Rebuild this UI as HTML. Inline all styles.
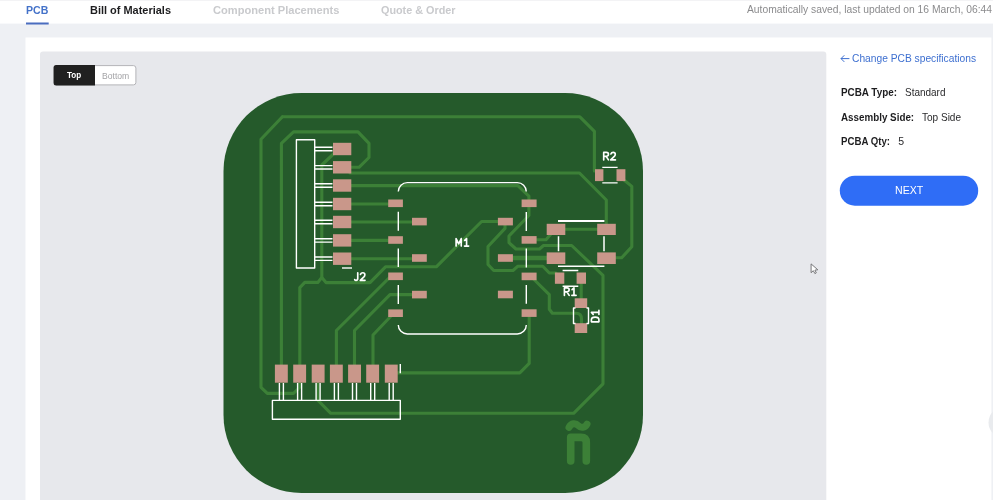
<!DOCTYPE html>
<html>
<head>
<meta charset="utf-8">
<title>PCB</title>
<style>
html,body{margin:0;padding:0;}
body{width:993px;height:500px;overflow:hidden;background:#eef0f4;font-family:"Liberation Sans",sans-serif;position:relative;}
.abs{position:absolute;white-space:nowrap;line-height:1;transform-origin:0 0;}
.rp{font-size:10.5px;color:#2a2a2c;}
.b{font-weight:bold;color:#1d1d1f;}
.tab{font-size:11.5px;font-weight:bold;}
</style>
</head>
<body>
<svg class="abs" style="left:0;top:0;" width="993" height="500" viewBox="0 0 993 500">
<rect x="0" y="0" width="993" height="23.6" fill="#ffffff"/>
<rect x="0" y="0" width="993" height="1" fill="#f3f3f5"/>
<rect x="25.5" y="37.5" width="965.9" height="470" fill="#ffffff"/>
<rect x="40" y="51.5" width="786.3" height="460" rx="3" ry="3" fill="#e7e8ec"/>
<rect x="26" y="22.5" width="22.7" height="2" fill="#4a6dbf"/>
<rect x="54.1" y="65.6" width="81.8" height="19.3" rx="2.5" ry="2.5" fill="#ffffff" stroke="#b4b4b8" stroke-width="1"/>
<path d="M56.1,65.1 H95 V85.4 H56.1 A2.5,2.5 0 0 1 53.6,82.9 V67.6 A2.5,2.5 0 0 1 56.1,65.1 Z" fill="#202020"/>
<rect x="839.8" y="175.7" width="138.4" height="30" rx="15" ry="15" fill="#2f6df6"/>
<path d="M849.4,58.6 H841 M844.3,55.3 L841,58.6 L844.3,61.9" fill="none" stroke="#3d6fd0" stroke-width="1"/>
<circle cx="1004" cy="422.5" r="15.5" fill="#e9ebee"/>
</svg>
<div id="txt" style="position:absolute;left:0;top:0;width:993px;height:500px;will-change:transform;">
<div class="abs tab" id="t1" style="left:26.3px;top:5px;color:#4472c9;transform:scaleX(0.92);">PCB</div>
<div class="abs tab" id="t2" style="left:90.2px;top:5px;color:#1d1d1f;transform:scaleX(0.953);">Bill of Materials</div>
<div class="abs tab" id="t3" style="left:212.6px;top:5px;color:#c9cacd;transform:scaleX(0.965);">Component Placements</div>
<div class="abs tab" id="t4" style="left:381px;top:5px;color:#c9cacd;transform:scaleX(0.94);">Quote &amp; Order</div>
<div class="abs" id="saved" style="left:747px;top:4.5px;font-size:10.3px;color:#8b8b8d;">Automatically saved, last updated on 16 March, 06:44</div>

<div class="abs" id="ttop" style="left:67.3px;top:71px;font-size:9px;font-weight:bold;color:#fff;transform:scaleX(0.9);">Top</div>
<div class="abs" id="tbot" style="left:102px;top:71.5px;font-size:8.6px;color:#a3a3a6;">Bottom</div>

<div class="abs rp" id="chg" style="left:852.4px;top:53px;color:#3d6fd0;transform:scaleX(0.975);">Change PCB specifications</div>
<div class="abs rp b" id="l1" style="left:840.5px;top:87px;transform:scaleX(0.94);">PCBA Type:</div>
<div class="abs rp" id="v1" style="left:904.7px;top:87px;transform:scaleX(0.95);">Standard</div>
<div class="abs rp b" id="l2" style="left:840.5px;top:111.5px;transform:scaleX(0.935);">Assembly Side:</div>
<div class="abs rp" id="v2" style="left:922.3px;top:111.5px;transform:scaleX(0.955);">Top Side</div>
<div class="abs rp b" id="l3" style="left:840.5px;top:136px;transform:scaleX(0.92);">PCBA Qty:</div>
<div class="abs rp" id="v3" style="left:898.3px;top:136px;">5</div>
<div class="abs" id="nexttxt" style="left:894.6px;top:185px;font-size:11.8px;color:#fff;transform:scaleX(0.9);">NEXT</div>

</div>
<svg id="pcb" class="abs" style="left:0;top:0;" width="993" height="500" viewBox="0 0 993 500">
<rect x="223.5" y="93" width="419.5" height="400" rx="78" ry="78" fill="#255a2b"/>
<g fill="none" stroke="#3c8037" stroke-width="3.1" stroke-linejoin="round" stroke-linecap="round">
<path d="M282.4,116.8 H579.9 L594.4,131.3 V171"/>
<path d="M282.4,116.8 L261,139.3 V387.3 L267.3,393.4 H293.5 L299.6,387.5 V381"/>
<path d="M281.4,366 V143.4 L293.5,131.9 H358 L369,143.4 V157.5 L359,167.3 H350"/>
<path d="M335,152.5 L321.8,165 V277.6 L317.8,282.4 H304.8 L299.8,287.6 V366"/>
<path d="M321.8,277.6 L326,282.6 H370 L385.5,266.8 H436.3 L481.6,221.5 H499"/>
<path d="M350,173 H579.5 L606.3,200 V225"/>
<path d="M350,185.6 H517.8 L528.9,196.2 V215.5 L509,236 V242.7 L516,249 H539.5 L543.5,245.5 H571.7 L603,275.4 V383.8 L573.6,413.3 H330.8 L318,400.4 V381"/>
<path d="M350,204 H390"/>
<path d="M350,222 H414"/>
<path d="M350,240.4 H390"/>
<path d="M350,258.7 H414"/>
<path d="M390,277 L336.4,330.5 V366"/>
<path d="M414,294.6 H390 L354.5,330.5 V366"/>
<path d="M392,315 L373,335 V366"/>
<path d="M505,224 V228.4 L488,246.5 V264.5 L493.7,270.5 H513 L517.9,266.2 H542.8 L549.3,273 H556"/>
<path d="M535,239.7 H546 L551,234"/>
<path d="M564,229.3 H599"/>
<path d="M624,180 L631.8,186.4 V246.7 L621.7,257.7 H614"/>
<path d="M581.2,282 V300"/>
<path d="M534,279.5 L549.3,294.7 V309.2 L552.4,313.3 H576 Q581.5,313.3 581.5,319 V325"/>
<path d="M529.2,315 V363.4 L519.8,372.9 H396"/>
<path d="M512,258 H548" stroke-width="4.4"/>
</g>
<g fill="none" stroke="#3c8037" stroke-linecap="round" stroke-linejoin="round"><path d="M570.7,460.9 V437.4 H581 Q586.3,437.4 586.3,442.5 V460.9" stroke-width="7.6"/><path d="M569,427.4 C571.3,423 575.5,422.8 578.3,425.6 C580.8,428.2 585,428 587,424.2" stroke-width="7"/></g>
<g fill="#c9978a">
<rect x="333.0" y="142.8" width="18.3" height="12.4"/>
<rect x="333.0" y="161.1" width="18.3" height="12.4"/>
<rect x="333.0" y="179.3" width="18.3" height="12.4"/>
<rect x="333.0" y="197.8" width="18.3" height="12.4"/>
<rect x="333.0" y="215.8" width="18.3" height="12.4"/>
<rect x="333.0" y="234.2" width="18.3" height="12.4"/>
<rect x="333.0" y="252.5" width="18.3" height="12.4"/>
<rect x="274.9" y="364.6" width="12.9" height="18.1"/>
<rect x="293.2" y="364.6" width="12.9" height="18.1"/>
<rect x="311.7" y="364.6" width="12.9" height="18.1"/>
<rect x="329.9" y="364.6" width="12.9" height="18.1"/>
<rect x="348.1" y="364.6" width="12.9" height="18.1"/>
<rect x="366.2" y="364.6" width="12.9" height="18.1"/>
<rect x="384.8" y="364.6" width="12.9" height="18.1"/>
<rect x="388.2" y="199.5" width="14.7" height="7.6"/>
<rect x="388.2" y="236.2" width="14.7" height="7.6"/>
<rect x="388.2" y="272.5" width="14.7" height="7.6"/>
<rect x="388.2" y="309.4" width="14.7" height="7.6"/>
<rect x="412.0" y="217.8" width="14.8" height="7.6"/>
<rect x="412.0" y="254.2" width="14.8" height="7.6"/>
<rect x="412.0" y="290.8" width="14.8" height="7.6"/>
<rect x="497.9" y="217.8" width="15" height="7.6"/>
<rect x="497.9" y="254.2" width="15" height="7.6"/>
<rect x="497.9" y="290.7" width="15" height="7.6"/>
<rect x="521.6" y="199.5" width="15" height="7.6"/>
<rect x="521.6" y="236.1" width="15" height="7.6"/>
<rect x="521.6" y="272.6" width="15" height="7.6"/>
<rect x="521.6" y="309.3" width="15" height="7.6"/>
<rect x="546.7" y="223.8" width="18.6" height="11.2"/>
<rect x="597.2" y="223.8" width="18.6" height="11.2"/>
<rect x="546.7" y="252.4" width="18.6" height="11.6"/>
<rect x="597.2" y="252.4" width="18.6" height="11.6"/>
<rect x="595.0" y="169.2" width="8.4" height="11.9"/>
<rect x="616.5" y="169.2" width="8.9" height="11.9"/>
<rect x="554.9" y="272.5" width="9.4" height="11.3"/>
<rect x="576.6" y="272.5" width="9.4" height="11.3"/>
<rect x="574.7" y="298.3" width="12.5" height="9.7"/>
<rect x="574.7" y="323.2" width="12.5" height="9.8"/>
</g>
<g fill="none" stroke="#ffffff" stroke-width="1.4" stroke-linejoin="round">
<path d="M296.4,139.8 H314.7 V268 H296.4 Z"/>
<path d="M314.5,147.3 H332.5 M314.5,150.7 H332.5"/>
<path d="M314.5,165.6 H332.5 M314.5,169.0 H332.5"/>
<path d="M314.5,183.8 H332.5 M314.5,187.2 H332.5"/>
<path d="M314.5,202.3 H332.5 M314.5,205.7 H332.5"/>
<path d="M314.5,220.3 H332.5 M314.5,223.7 H332.5"/>
<path d="M314.5,238.7 H332.5 M314.5,242.1 H332.5"/>
<path d="M314.5,257.0 H332.5 M314.5,260.4 H332.5"/>
<path d="M342,268 H352"/>
<path d="M272.4,400.4 H400.3 V419.2 H272.4 Z"/>
<path d="M279.4,383 V400.4 M283.4,383 V400.4"/>
<path d="M297.6,383 V400.4 M301.6,383 V400.4"/>
<path d="M316.1,383 V400.4 M320.1,383 V400.4"/>
<path d="M334.4,383 V400.4 M338.4,383 V400.4"/>
<path d="M352.5,383 V400.4 M356.5,383 V400.4"/>
<path d="M370.7,383 V400.4 M374.7,383 V400.4"/>
<path d="M389.2,383 V400.4 M393.2,383 V400.4"/>
<path d="M400.3,364 V373.2"/>
<path d="M398.3,191.5 A9,9 0 0 1 407.3,182.6 H517.3 A9,9 0 0 1 526.3,191.5"/>
<path d="M398.3,325 A9,9 0 0 0 407.3,334 H517.3 A9,9 0 0 0 526.3,325"/>
<path d="M398.3,211.8 V230.8 M398.3,248.5 V267 M398.3,285 V304"/>
<path d="M526.3,212 V231 M526.3,248.4 V267.5 M526.3,285 V303.7"/>
<path d="M558,266.2 H604.4"/>
<path d="M602.3,167.4 H617.6 M602.3,182.9 H617.6"/>
<path d="M562.6,270.5 H578.3 M562.6,286.3 H578.3"/>
<path d="M575.5,308 H573.5 V323.5 H575.5 M586.5,308 H588.5 V323.5 H586.5"/>
<path d="M558,221 H604.4" stroke-width="2"/>
<path d="M558.5,236.3 V251.2 M604,236.3 V251.2" stroke-width="1.5"/>
</g>
<g fill="none" stroke="#ffffff" stroke-width="1.75" stroke-linecap="round" stroke-linejoin="round">
<path transform="translate(354.7,272.8) scale(0.95,0.94)" d="M3.2,0 V6 Q3.2,8 1.4,8 Q0.4,8 0,7.2"/>
<path transform="translate(360.3,272.8) scale(0.95,0.94)" d="M0.2,1.7 Q0.8,0 2.6,0 Q4.8,0 4.8,2 Q4.8,3.2 3.8,4.3 L0,8 H5"/>
<path transform="translate(456.1,238.6) scale(0.95,0.94)" d="M0,8 V0 L2.7,5.5 L5.4,0 V8"/>
<path transform="translate(464.3,238.6) scale(0.95,0.94)" d="M0.4,1.9 L2.4,0 V8 M0.2,8 H4.6"/>
<path transform="translate(603.7,152.4) scale(0.95,0.94)" d="M0,8 V0 H2.8 Q5,0 5,2.1 Q5,4.2 2.8,4.2 H0 M2.6,4.2 L5,8"/>
<path transform="translate(610.7,152.4) scale(0.95,0.94)" d="M0.2,1.7 Q0.8,0 2.6,0 Q4.8,0 4.8,2 Q4.8,3.2 3.8,4.3 L0,8 H5"/>
<path transform="translate(564.4,287.9) scale(0.95,0.94)" d="M0,8 V0 H2.8 Q5,0 5,2.1 Q5,4.2 2.8,4.2 H0 M2.6,4.2 L5,8"/>
<path transform="translate(571.7,287.9) scale(0.95,0.94)" d="M0.4,1.9 L2.4,0 V8 M0.2,8 H4.6"/>
<g transform="translate(591.4,321.8) rotate(-90)">
<path transform="translate(0,0) scale(0.95,0.94)" d="M0,0 V8 H2.2 Q5,8 5,4 Q5,0 2.2,0 Z"/>
<path transform="translate(7.1,0) scale(0.95,0.94)" d="M0.4,1.9 L2.4,0 V8 M0.2,8 H4.6"/>
</g></g>
<path d="M811.1,263.9 V272.7 L813.3,270.7 L814.9,273.6 L816.3,272.8 L814.9,270.1 L817.8,269.8 Z" fill="#ffffff" stroke="#6a6a6c" stroke-width="0.9" stroke-linejoin="round"/>
</svg>
</body>
</html>
